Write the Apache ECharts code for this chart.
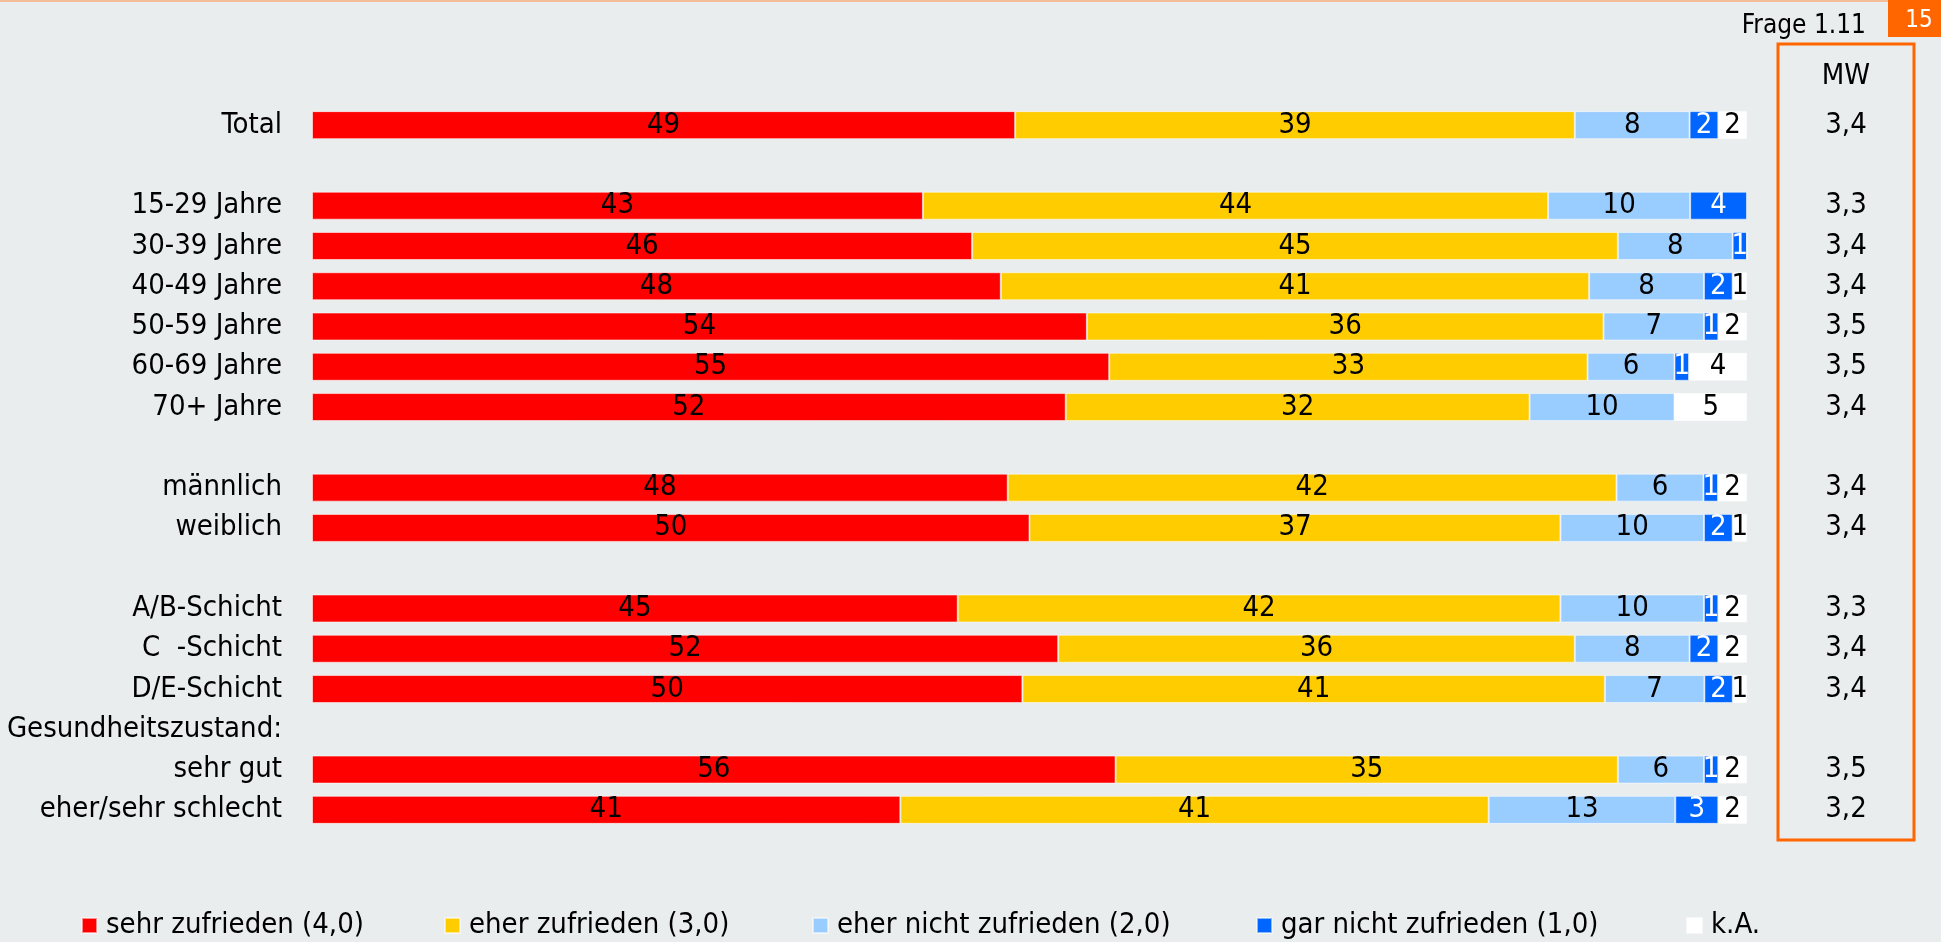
<!DOCTYPE html>
<html>
<head>
<meta charset="utf-8">
<title>Frage 1.11</title>
<script src="https://cdn.jsdelivr.net/npm/echarts@6/dist/echarts.min.js"></script>
<style>
  html, body { margin: 0; padding: 0; background: #e9eded; }
  #chart { width: 1941px; height: 942px; }
</style>
</head>
<body>
<div id="chart"></div>
<script>
// Zeilen (leere Strings = Abstandszeilen)
const categories = [
  'Total', ' ', '15-29 Jahre', '30-39 Jahre', '40-49 Jahre', '50-59 Jahre',
  '60-69 Jahre', '70+ Jahre', '  ', 'männlich', 'weiblich', '   ',
  'A/B-Schicht', 'C  -Schicht', 'D/E-Schicht', 'Gesundheitszustand:',
  'sehr gut', 'eher/sehr schlecht'
];
const seriesNames = [
  'sehr zufrieden (4,0)', 'eher zufrieden (3,0)', 'eher nicht zufrieden (2,0)',
  'gar nicht zufrieden (1,0)', 'k.A.'
];
const sehrZufrieden = [49, null, 43, 46, 48, 54, 55, 52, null, 48, 50, null, 45, 52, 50, null, 56, 41];
const eherZufrieden = [39, null, 44, 45, 41, 36, 33, 32, null, 42, 37, null, 42, 36, 41, null, 35, 41];
const eherNicht     = [8, null, 10, 8, 8, 7, 6, 10, null, 6, 10, null, 10, 8, 7, null, 6, 13];
const garNicht      = [2, null, 4, 1, 2, 1, 1, 0, null, 1, 2, null, 1, 2, 2, null, 1, 3];
const keineAngabe   = [2, null, 0, 0, 1, 2, 4, 5, null, 2, 1, null, 2, 2, 1, null, 2, 2];
const mittelwert = ['3,4', '', '3,3', '3,4', '3,4', '3,5', '3,5', '3,4', '', '3,4', '3,4', '', '3,3', '3,4', '3,4', '', '3,5', '3,2'];

const colors = ['#ff0000', '#ffcc00', '#99ccff', '#0066ff', '#ffffff'];
const labelColors = ['#000', '#000', '#000', '#fff', '#000'];
const raw = [sehrZufrieden, eherZufrieden, eherNicht, garNicht, keineAngabe];

const FONT = "'DejaVu Sans Condensed', 'DejaVu Sans', sans-serif";
const FS = 29;

// jede Zeile auf 100 % hochrechnen (gerundete Werte summieren nicht immer auf 100)
const rowSum = categories.map((c, i) => raw.reduce((s, arr) => s + (arr[i] || 0), 0));
const share = (arr) => arr.map((v, i) => v == null ? null : v * 100 / rowSum[i]);

const legendLeft = [81, 444, 812, 1256, 1686];

const chart = echarts.init(document.getElementById('chart'));

const option = {
  backgroundColor: '#e9eded',
  animation: false,
  grid: { left: 312, right: 194, top: 105, bottom: 112 },
  xAxis: { type: 'value', min: 0, max: 100, show: false },
  yAxis: [
    {
      type: 'category',
      data: categories,
      inverse: true,
      axisLine: { show: false },
      axisTick: { show: false },
      axisLabel: { interval: 0, margin: 30, color: '#000', fontSize: FS, fontFamily: FONT, padding: [8, 0, 0, 0] }
    },
    {
      type: 'category',
      data: categories,
      inverse: true,
      position: 'right',
      axisLine: { show: false },
      axisTick: { show: false },
      axisLabel: {
        interval: 0, margin: 99, align: 'center', color: '#000', fontSize: FS, fontFamily: FONT,
        padding: [8, 0, 0, 0],
        formatter: (v, i) => mittelwert[i]
      }
    }
  ],
  legend: seriesNames.map((n, i) => ({
    data: [n],
    left: legendLeft[i],
    top: 911,
    padding: 0,
    icon: 'rect',
    itemWidth: 15,
    itemHeight: 15,
    selectedMode: false,
    textStyle: { color: '#000', fontSize: FS, fontFamily: FONT, padding: [0, 0, 0, 4] }
  })),
  series: seriesNames.map((n, k) => ({
    name: n,
    type: 'bar',
    stack: 'total',
    barWidth: 28,
    data: share(raw[k]),
    itemStyle: { color: colors[k], borderColor: 'rgba(255,255,255,0.55)', borderWidth: 1 },
    label: {
      show: true,
      position: 'inside',
      color: labelColors[k],
      fontSize: FS,
      fontFamily: FONT,
      padding: [8, 0, 0, 0],
      formatter: (p) => raw[k][p.dataIndex] ? String(raw[k][p.dataIndex]) : ''
    }
  })),
  graphic: [
    { type: 'rect', shape: { x: 0, y: 0, width: 1941, height: 2 }, style: { fill: '#f4bf98' } },
    { type: 'rect', shape: { x: 1888, y: 0, width: 53, height: 37 }, style: { fill: '#ff6600' } },
    { type: 'text', style: { x: 1919, y: 21, text: '15', fill: '#fff', font: '24px ' + FONT, textAlign: 'center', textVerticalAlign: 'middle' } },
    { type: 'text', style: { x: 1866, y: 26, text: 'Frage 1.11', fill: '#000', font: '26px ' + FONT, textAlign: 'right', textVerticalAlign: 'middle' } },
    { type: 'rect', shape: { x: 1778, y: 44, width: 136, height: 796 }, style: { fill: 'none', stroke: '#ff6600', lineWidth: 3 } },
    { type: 'text', style: { x: 1846, y: 76, text: 'MW', fill: '#000', font: FS + 'px ' + FONT, textAlign: 'center', textVerticalAlign: 'middle' } }
  ]
};

chart.setOption(option);
</script>
</body>
</html>
